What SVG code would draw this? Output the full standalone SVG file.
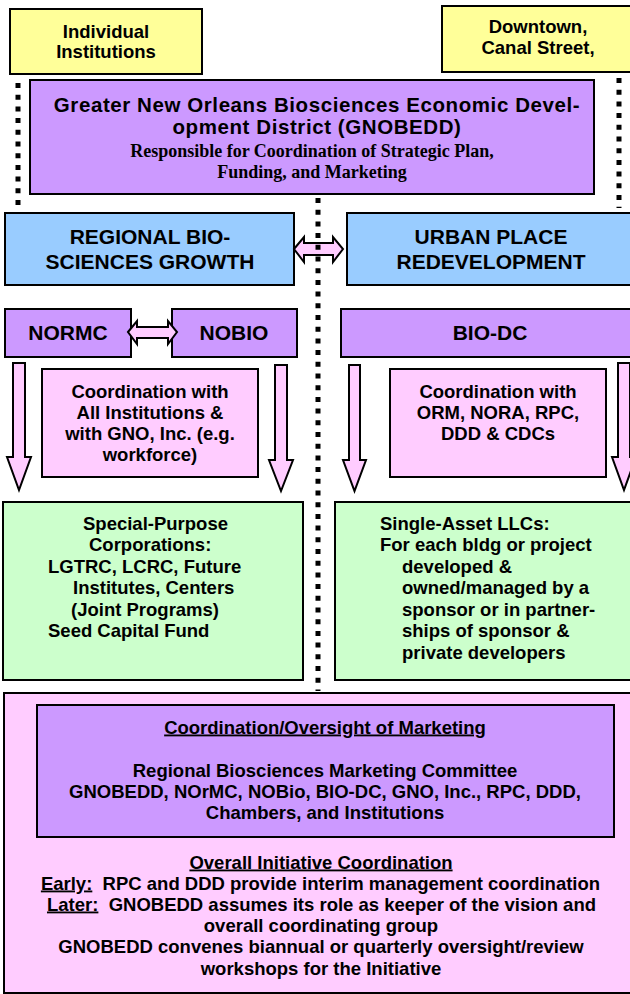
<svg xmlns="http://www.w3.org/2000/svg" width="630" height="994" viewBox="0 0 630 994">
<style>
.box{stroke:#000;stroke-width:2}
.yel{fill:#FFFF99}.pur{fill:#CC99FF}.blu{fill:#99CCFF}.pnk{fill:#FFCCFF}.grn{fill:#CCFFCC}
text{font-family:"Liberation Sans",Arial,sans-serif;font-weight:bold;fill:#000}
.c{text-anchor:middle}
.s185{font-size:18.5px}.s21{font-size:21px}.s216{font-size:20.5px;letter-spacing:0.58px}
.serif{font-family:"Liberation Serif","Times New Roman",serif;font-size:18px}
.dot{stroke:#000;stroke-width:5;stroke-dasharray:5 6.7;fill:none}
.arr{fill:#FFCCFF;stroke:#000;stroke-width:2;stroke-linejoin:miter}
.u{text-decoration:underline}
</style>
<rect width="630" height="994" fill="#fff"/>
<g id="individual-institutions">
<rect class="box yel" x="10" y="9" width="192" height="65"/>
<text class="c s185" x="106" y="38">Individual</text>
<text class="c s185" x="106" y="58">Institutions</text>
</g>
<g id="downtown">
<rect class="box yel" x="442" y="6" width="194" height="66"/>
<text class="c s185" x="538" y="33">Downtown,</text>
<text class="c s185" x="538" y="54">Canal Street,</text>
</g>
<g id="gnobedd">
<rect class="box pur" x="30" y="80" width="564" height="114"/>
<text class="c s216" x="317" y="112">Greater New Orleans Biosciences Economic Devel-</text>
<text class="c s216" x="317" y="134">opment District (GNOBEDD)</text>
<text class="c serif" x="312" y="157">Responsible for Coordination of Strategic Plan,</text>
<text class="c serif" x="312" y="178">Funding, and Marketing</text>
</g>
<g id="regional">
<rect class="box blu" x="5" y="213" width="289" height="72"/>
<text class="c s21" x="150" y="244">REGIONAL BIO-</text>
<text class="c s21" x="150" y="269">SCIENCES GROWTH</text>
</g>
<g id="urban">
<rect class="box blu" x="347" y="213" width="290" height="72"/>
<text class="c s21" x="491" y="244">URBAN PLACE</text>
<text class="c s21" x="491" y="269">REDEVELOPMENT</text>
</g>
<g id="normc">
<rect class="box pur" x="5" y="309" width="126" height="48"/>
<text class="c s21" x="68" y="340">NORMC</text>
</g>
<g id="nobio">
<rect class="box pur" x="172" y="309" width="125" height="48"/>
<text class="c s21" x="234" y="340">NOBIO</text>
</g>
<g id="biodc">
<rect class="box pur" x="341" y="309" width="296" height="48"/>
<text class="c s21" x="490" y="340">BIO-DC</text>
</g>
<g id="coord-left">
<rect class="box pnk" x="42" y="369" width="216" height="108"/>
<text class="c s185" x="150" y="397.5">Coordination with</text>
<text class="c s185" x="150" y="418.5">All Institutions &amp;</text>
<text class="c s185" x="150" y="439.5">with GNO, Inc. (e.g.</text>
<text class="c s185" x="150" y="460.5">workforce)</text>
</g>
<g id="coord-right">
<rect class="box pnk" x="390" y="369" width="216" height="108"/>
<text class="c s185" x="498" y="397.5">Coordination with</text>
<text class="c s185" x="498" y="418.5">ORM, NORA, RPC,</text>
<text class="c s185" x="498" y="439.5">DDD &amp; CDCs</text>
</g>
<g id="special-purpose">
<rect class="box grn" x="3" y="502" width="300" height="178"/>
<text class="s185" x="83" y="529.5">Special-Purpose</text>
<text class="s185" x="89" y="551">Corporations:</text>
<text class="s185" x="48" y="572.5">LGTRC, LCRC, Future</text>
<text class="s185" x="73" y="594">Institutes, Centers</text>
<text class="s185" x="71" y="615.5">(Joint Programs)</text>
<text class="s185" x="48" y="637">Seed Capital Fund</text>
</g>
<g id="single-asset">
<rect class="box grn" x="335" y="502" width="302" height="178"/>
<text class="s185" x="380" y="529.5">Single-Asset LLCs:</text>
<text class="s185" x="380" y="551">For each bldg or project</text>
<text class="s185" x="402" y="572.5">developed &amp;</text>
<text class="s185" x="402" y="594">owned/managed by a</text>
<text class="s185" x="402" y="615.5">sponsor or in partner-</text>
<text class="s185" x="402" y="637">ships of sponsor &amp;</text>
<text class="s185" x="402" y="658.5">private developers</text>
</g>
<g id="coordination-bottom">
<rect class="box pnk" x="4" y="693" width="633" height="300"/>
<g id="marketing">
<rect class="box pur" x="37" y="705" width="577" height="132"/>
<text class="c s185 u" x="325" y="733.5">Coordination/Oversight of Marketing</text>
<text class="c s185" x="325" y="776.5">Regional Biosciences Marketing Committee</text>
<text class="c s185" x="325" y="797.5">GNOBEDD, NOrMC, NOBio, BIO-DC, GNO, Inc., RPC, DDD,</text>
<text class="c s185" x="325" y="818.5">Chambers, and Institutions</text>
</g>
<text class="c s185 u" x="321" y="868.5">Overall Initiative Coordination</text>
<text class="c s185" x="320.5" y="889.5" xml:space="preserve"><tspan class="u">Early:</tspan>  RPC and DDD provide interim management coordination</text>
<text class="c s185" x="321.5" y="910.5" xml:space="preserve"><tspan class="u">Later:</tspan>  GNOBEDD assumes its role as keeper of the vision and</text>
<text class="c s185" x="321" y="932">overall coordinating group</text>
<text class="c s185" x="321" y="953">GNOBEDD convenes biannual or quarterly oversight/review</text>
<text class="c s185" x="321" y="974.5">workshops for the Initiative</text>
</g>
<g id="connectors">
<path class="arr" d="M294,249 L304,237 V243 H333 V237 L343,249 L333,262 V255 H304 V262 Z"/>
<path class="arr" d="M128,332 L137,321 V327 H168 V321 L177,332 L168,344 V338 H137 V344 Z"/>
<path class="arr" d="M13,363 H25 V457 H31 L19,490 L7,457 H13 Z"/>
<path class="arr" d="M275,365 H287 V460 H293 L281,491 L269,460 H275 Z"/>
<path class="arr" d="M349,365 H360 V460 H366 L354.5,491 L343,460 H349 Z"/>
<path class="arr" d="M618,363 H630 V457 H636 L624,490 L612,457 H618 Z"/>
<line class="dot" x1="18" y1="83" x2="18" y2="208"/>
<line class="dot" x1="619" y1="78" x2="619" y2="208"/>
<line class="dot" x1="318" y1="198" x2="318" y2="691"/>
</g>
</svg>
